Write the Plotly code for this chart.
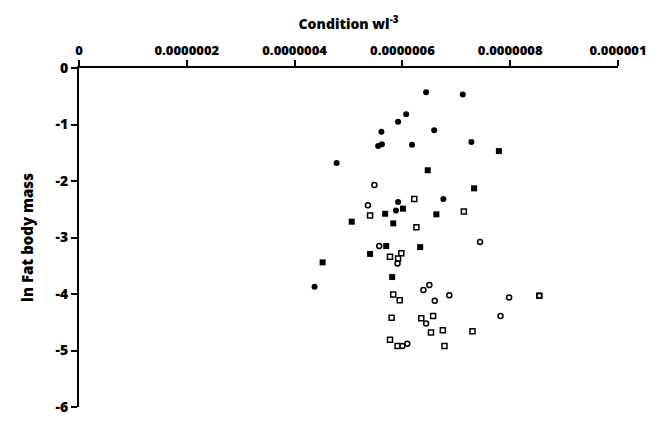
import plotly.graph_objects as go

# x values in units of 1e-7 (converted below), y = ln fat body mass
filled_circle_x = [6.44, 7.12, 6.07, 5.92, 5.61, 6.59, 7.28, 5.62, 5.55, 6.18, 4.78, 5.92, 5.88, 6.76, 4.37]
filled_circle_y = [-0.43, -0.47, -0.82, -0.95, -1.13, -1.10, -1.31, -1.35, -1.38, -1.36, -1.68, -2.37, -2.52, -2.32, -3.87]

filled_square_x = [6.47, 7.79, 7.33, 6.01, 5.68, 5.06, 5.83, 6.63, 5.70, 6.33, 5.40, 4.52, 5.81]
filled_square_y = [-1.81, -1.47, -2.13, -2.49, -2.58, -2.72, -2.75, -2.59, -3.15, -3.17, -3.29, -3.44, -3.70]

open_circle_x = [5.48, 5.36, 5.57, 5.91, 7.44, 6.39, 6.50, 6.87, 6.60, 7.98, 7.82, 6.44, 6.00, 6.09, 8.54]
open_circle_y = [-2.07, -2.43, -3.15, -3.46, -3.08, -3.93, -3.84, -4.02, -4.12, -4.06, -4.39, -4.52, -4.92, -4.88, -4.03]

open_square_x = [6.22, 5.40, 7.14, 6.26, 5.98, 5.77, 5.92, 5.83, 5.95, 5.80, 6.35, 6.57, 6.53, 6.75, 7.30, 5.77, 5.91, 6.78, 8.54]
open_square_y = [-2.32, -2.61, -2.54, -2.82, -3.28, -3.34, -3.37, -4.01, -4.11, -4.42, -4.43, -4.39, -4.68, -4.64, -4.66, -4.81, -4.92, -4.92, -4.03]

x_tickvals = [0, 2e-7, 4e-7, 6e-7, 8e-7, 1e-6]
x_ticktext = ["0", "0.0000002", "0.0000004", "0.0000006", "0.0000008", "0.000001"]
y_tickvals = [0, -1, -2, -3, -4, -5, -6]
y_ticktext = ["0", "-1", "-2", "-3", "-4", "-5", "-6"]

scale = 1e-7
def sx(v):
    return [a * scale for a in v]

fig = go.Figure()
fig.add_trace(go.Scatter(x=sx(filled_circle_x), y=filled_circle_y, mode="markers",
                         marker=dict(symbol="circle", size=6, color="black", line=dict(width=0))))
fig.add_trace(go.Scatter(x=sx(filled_square_x), y=filled_square_y, mode="markers",
                         marker=dict(symbol="square", size=6, color="black", line=dict(width=0))))
fig.add_trace(go.Scatter(x=sx(open_circle_x), y=open_circle_y, mode="markers",
                         marker=dict(symbol="circle-open", size=5, color="black", line=dict(width=1.5))))
fig.add_trace(go.Scatter(x=sx(open_square_x), y=open_square_y, mode="markers",
                         marker=dict(symbol="square-open", size=5, color="black", line=dict(width=1.5))))

font_family = "Open Sans"
fig.update_layout(
    width=666, height=428,
    margin=dict(l=79, r=48, t=68, b=12),
    paper_bgcolor="white", plot_bgcolor="white",
    showlegend=False,
    font=dict(family=font_family, color="black", size=13),
)
fig.update_xaxes(
    side="top", range=[0, 1e-6], tickvals=x_tickvals, ticktext=x_ticktext,
    tickfont=dict(family=font_family, size=13, weight=800),
    showline=True, linecolor="black", linewidth=2,
    ticks="outside", ticklen=6, tickwidth=2, tickcolor="black",
    showgrid=False, zeroline=False,
    title=dict(text="Condition wl<sup>-3</sup>", font=dict(family=font_family, size=14, weight=800), standoff=8),
)
fig.update_yaxes(
    range=[-6, 0], tickvals=y_tickvals, ticktext=y_ticktext,
    tickfont=dict(family=font_family, size=14, weight=800),
    showline=True, linecolor="black", linewidth=2,
    ticks="outside", ticklen=6, tickwidth=2, tickcolor="black",
    showgrid=False, zeroline=False,
    title=dict(text="ln Fat body mass", font=dict(family=font_family, size=15, weight=800), standoff=18),
)

fig.write_html("out.html")
